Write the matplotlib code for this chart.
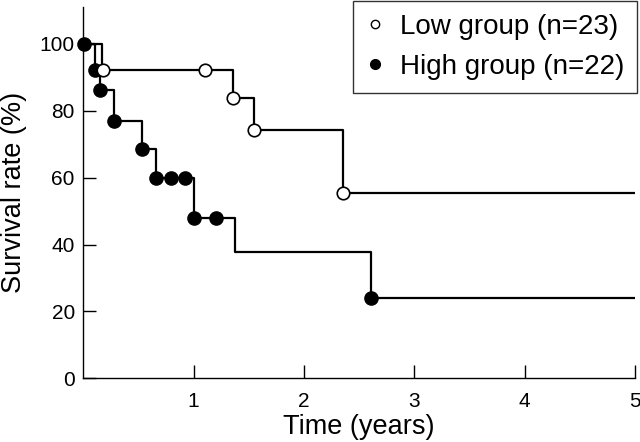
import matplotlib
matplotlib.use("Agg")
import matplotlib.pyplot as plt

plt.rcParams['font.family'] = ['Liberation Sans', 'DejaVu Sans']

# Low group step curve
low_t = [0.0, 0.17, 1.355, 1.55, 2.355, 5.0]
low_s = [100, 92.2, 83.8, 74.3, 55.5, 55.5]
# Low group markers
low_mt = [0.18, 1.10, 1.355, 1.55, 2.355]
low_ms = [92.2, 92.2, 83.8, 74.3, 55.5]

# High group step curve
high_t = [0.0, 0.11, 0.15, 0.277, 0.533, 0.662, 1.008, 1.376, 2.61, 5.0]
high_s = [100, 92.2, 86.3, 76.9, 68.7, 59.8, 48.0, 37.8, 24.0, 24.0]
# High group markers
high_mt = [0.01, 0.11, 0.15, 0.277, 0.533, 0.664, 0.795, 0.924, 1.008, 1.204, 2.61]
high_ms = [100, 92.2, 86.3, 76.9, 68.7, 59.8, 59.8, 59.8, 48.0, 48.0, 24.0]

xticks = [1, 2, 3, 4, 5]
yticks = [0, 20, 40, 60, 80, 100]

fig = plt.figure(figsize=(6.4, 4.42), dpi=100)
ax = fig.add_axes([0.13, 0.144, 0.862, 0.84])

ax.step(high_t, high_s, where='post', color='black', lw=1.6, zorder=2)
ax.step(low_t, low_s, where='post', color='black', lw=1.6, zorder=2)
ax.plot(high_mt, high_ms, 'o', color='black', ms=9.5, zorder=3, clip_on=False)
ax.plot(low_mt, low_ms, 'o', mfc='white', mec='black', mew=1.2, ms=9, zorder=4, clip_on=False)

# Legend handles
h_low, = ax.plot([], [], 'o', mfc='white', mec='black', mew=1.0, ms=6)
h_high, = ax.plot([], [], 'o', color='black', ms=7)
leg = fig.legend([h_low, h_high], ['Low group (n=23)', 'High group (n=22)'],
                 loc='upper right', bbox_to_anchor=(637 / 640, 1 - 1 / 442),
                 fontsize=20, frameon=True, fancybox=False, edgecolor='black',
                 handlelength=0.6, handletextpad=0.6, borderpad=0.47,
                 labelspacing=0.5, borderaxespad=0.0)
leg.get_frame().set_linewidth(1.0)

ax.set_xlim(0, 5)
ax.set_ylim(0, 111)
ax.set_xticks(xticks)
ax.set_xticklabels([str(v) for v in xticks])
ax.set_yticks(yticks)
ax.set_yticklabels([str(v) for v in yticks])
ax.tick_params(direction='in', length=9.5, width=1.0, labelsize=15)
ax.tick_params(axis='x', pad=10)
ax.tick_params(axis='y', pad=6)

for s in ['top', 'right']:
    ax.spines[s].set_visible(False)
for s in ['left', 'bottom']:
    ax.spines[s].set_linewidth(1.0)

ax.set_xlabel('Time (years)', fontsize=19.5, labelpad=2)
ax.set_ylabel('Survival rate (%)', fontsize=19.5, labelpad=9)

fig.savefig('out.png', dpi=100)
